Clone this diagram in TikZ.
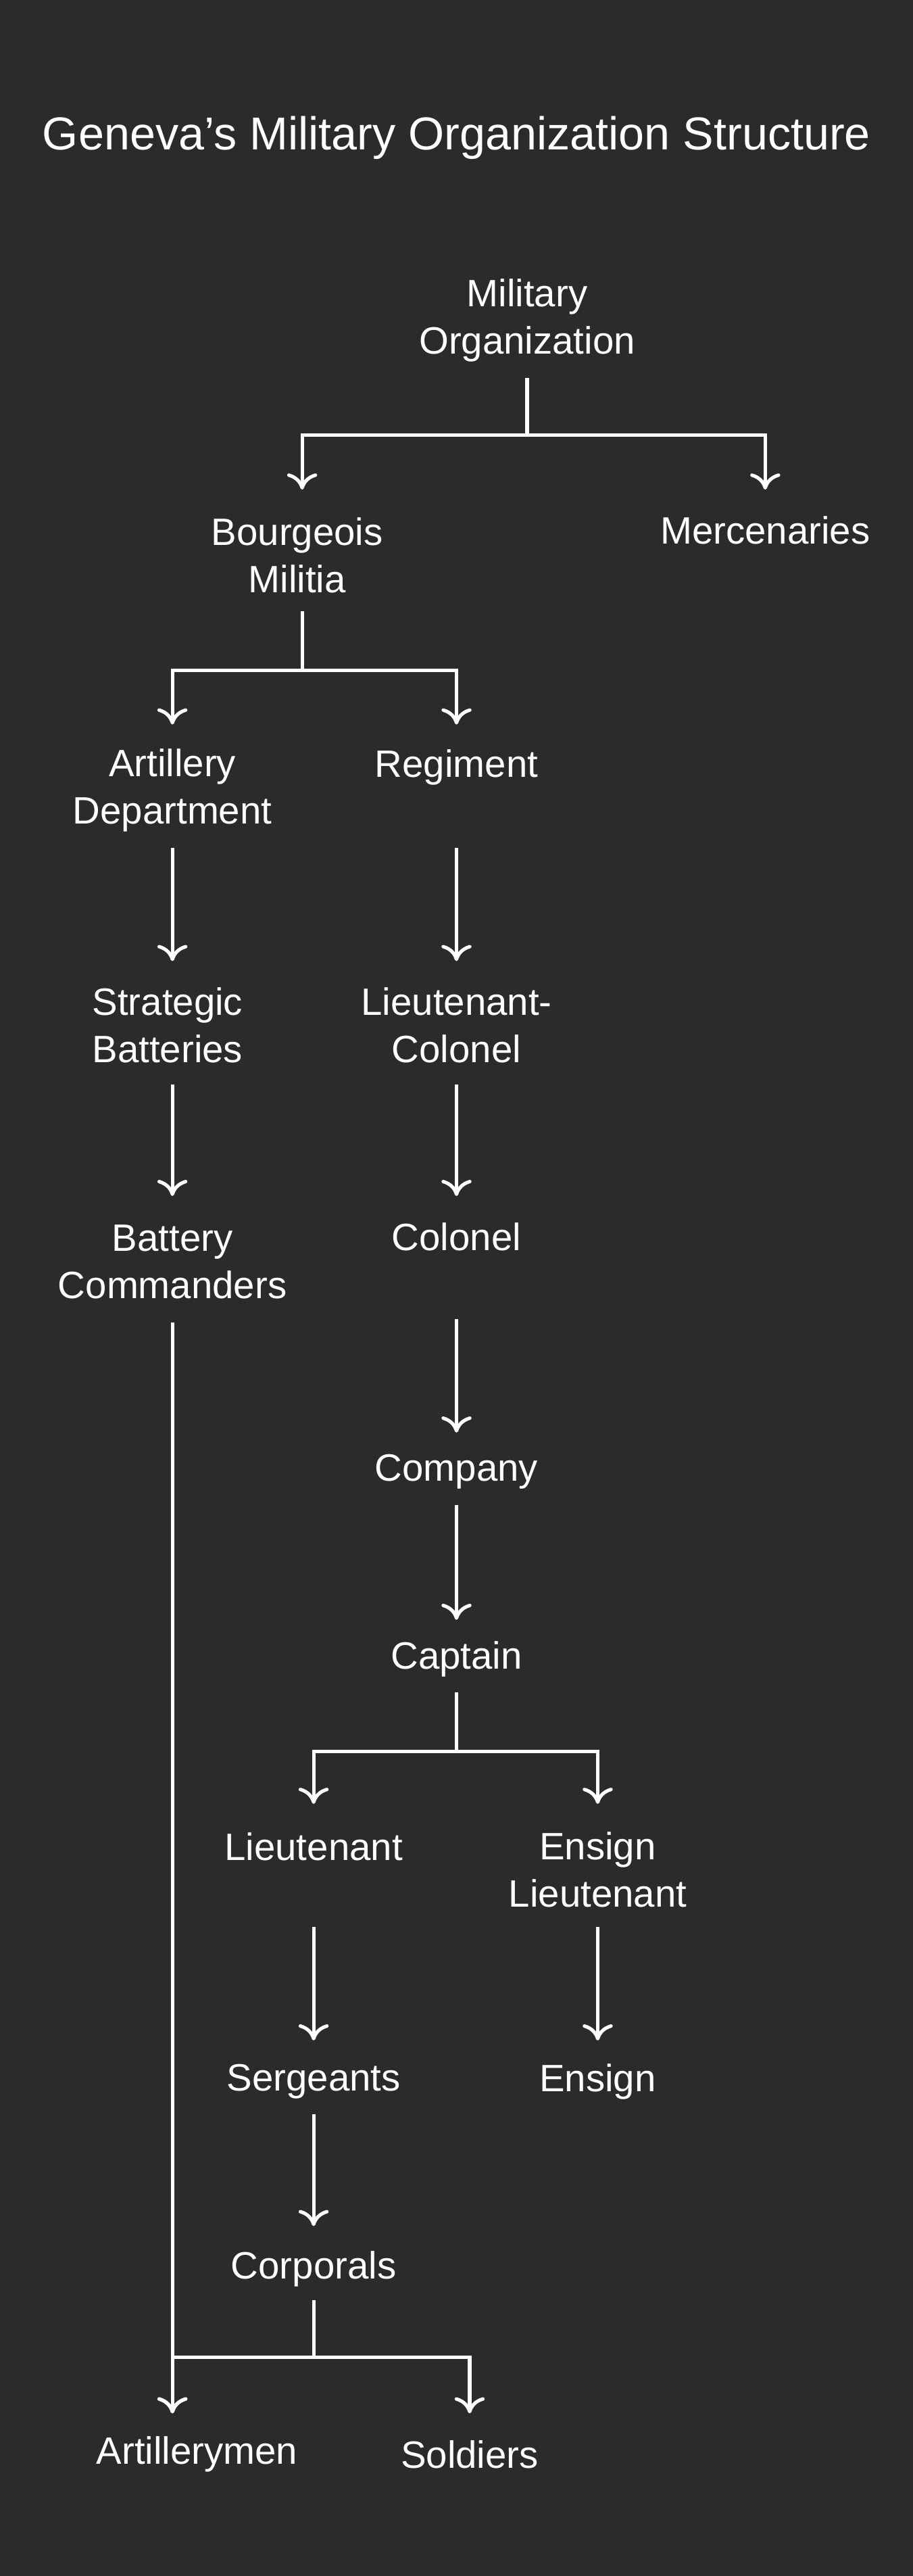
\documentclass[tikz,border=0pt]{standalone}
\usepackage{fontspec}
\setmainfont[Ligatures=ResetAll]{Liberation Sans}
\usetikzlibrary{arrows.meta}
\definecolor{bg}{HTML}{2B2B2B}
\begin{document}
\begin{tikzpicture}[x=0.05cm,y=-0.05cm,
  lbl/.style={text=white,align=center,font=\fontsize{33}{41}\selectfont,inner sep=0pt},
  conn/.style={draw=white,line width=3pt},
  arr/.style={conn,-{To[length=14pt,width=26pt,line width=3pt]}}]
\fill[bg] (0,0) rectangle (556,1568);
\useasboundingbox (0,0) rectangle (556,1568);
\node[lbl,font=\fontsize{40}{44}\selectfont] (title) at (278,84) {Geneva's Military Organization Structure};
\node[lbl] (mo) at (321,195) {Military\\Organization};
\node[lbl] (bm) at (181,338) {Bourgeois\\Militia};
\node[lbl] (me) at (466,323) {Mercenaries};
\node[lbl] (ad) at (105,481) {Artillery\\Department};
\node[lbl] (re) at (278,467) {Regiment};
\node[lbl] (sb) at (102,624) {Strategic\\Batteries};
\node[lbl] (lc) at (278,624) {Lieutenant-\\Colonel};
\node[lbl] (bc) at (105,768) {Battery\\Commanders};
\node[lbl] (co) at (278,753) {Colonel};
\node[lbl] (cp) at (278,896) {Company};
\node[lbl] (ca) at (278,1010) {Captain};
\node[lbl] (lt) at (191,1124) {Lieutenant};
\node[lbl] (el) at (364,1138) {Ensign\\Lieutenant};
\node[lbl] (se) at (191,1267) {Sergeants};
\node[lbl] (en) at (364,1267) {Ensign};
\node[lbl] (cr) at (191,1381) {Corporals};
\node[lbl] (ar) at (120,1494) {Artillerymen};
\node[lbl] (so) at (286,1494) {Soldiers};
\coordinate (j1) at (321,265);
\draw[conn] (mo |- 0,230) -- (j1);
\draw[arr] (j1) -| (184,298);
\draw[arr] (j1) -| (me.north |- 0,298);
\coordinate (j2) at (184,408);
\draw[conn] (184,372) -- (j2);
\draw[arr] (j2) -| (ad.north |- 0,441);
\draw[arr] (j2) -| (re.north |- 0,441);
\draw[arr] (ad |- 0,516) -- (ad |- 0,585);
\draw[arr] (re |- 0,516) -- (re |- 0,585);
\draw[arr] (bc |- 0,660) -- (bc |- 0,728);
\draw[arr] (lc |- 0,660) -- (lc |- 0,728);
\draw[arr] (co |- 0,803) -- (co |- 0,872);
\draw[arr] (cp |- 0,916) -- (cp |- 0,986);
\coordinate (j3) at (278,1066);
\draw[conn] (ca |- 0,1030) -- (j3);
\draw[arr] (j3) -| (lt |- 0,1098);
\draw[arr] (j3) -| (el |- 0,1098);
\draw[arr] (lt |- 0,1173) -- (lt |- 0,1242);
\draw[arr] (el |- 0,1173) -- (el |- 0,1242);
\draw[arr] (se |- 0,1287) -- (se |- 0,1355);
\coordinate (j4) at (191,1435);
\draw[conn] (cr |- 0,1400) -- (j4);
\draw[arr] (j4) -| (105,1469);
\draw[arr] (j4) -| (so |- 0,1469);
\draw[arr] (bc |- 0,805) -- (105,1469);
\end{tikzpicture}
\end{document}
